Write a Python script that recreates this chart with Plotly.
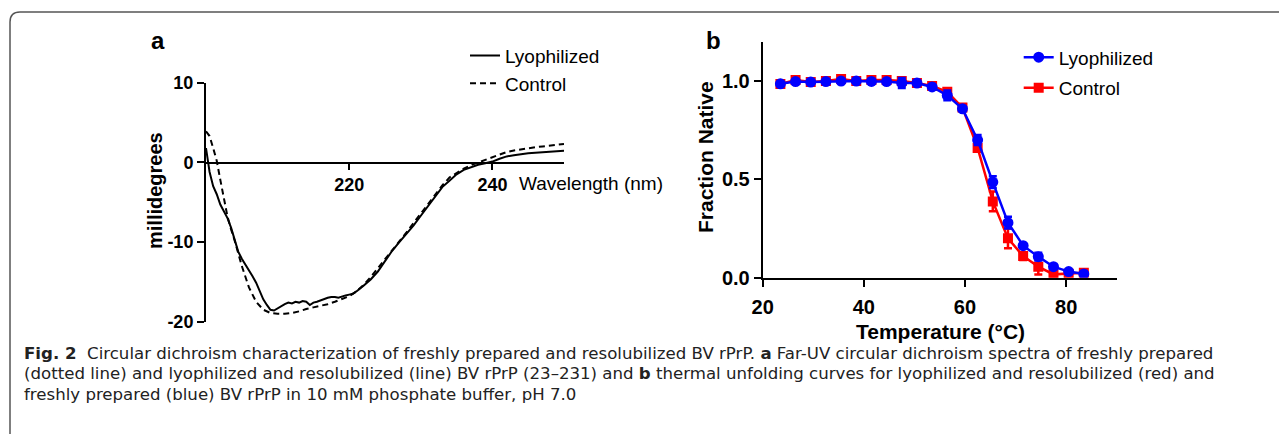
import plotly.graph_objects as go

W, H = 1287, 434
OFF = 8  # page body margin: convert screen pixels to paper coordinates
def px(x): return (x - OFF) / W
def py(y): return (H - (y - OFF)) / H

# ---------------- Panel a data (CD spectra) ----------------
wl_lyo = [200, 200.5, 201, 201.5, 202, 202.5, 203, 203.5, 204, 204.5, 205, 205.5, 206, 206.5,
          207, 207.5, 208, 208.5, 209, 209.5, 210, 210.5, 211, 211.5, 212, 212.5, 213, 213.5,
          214, 214.5, 215, 215.5, 216, 216.5, 217, 217.5, 218, 218.5, 219, 219.5, 220, 220.5,
          221, 221.5, 222, 223, 224, 225, 226, 227, 228, 229, 230, 231, 232, 233, 234, 235,
          236, 237, 238, 239, 240, 241, 242, 243, 244, 245, 246, 247, 248, 249, 250]
mdeg_lyo = [1.8, -1.2, -3.0, -4.0, -5.3, -6.2, -7.0, -8.2, -9.6, -11.2, -12.1, -12.8, -13.5, -14.3,
            -15.1, -16.2, -17.2, -17.9, -18.5, -18.6, -18.3, -18.0, -17.8, -17.6, -17.7, -17.5, -17.6, -17.4,
            -17.5, -17.9, -17.6, -17.5, -17.3, -17.2, -17.0, -16.9, -16.9, -17.0, -16.8, -16.7, -16.6, -16.5,
            -16.2, -15.9, -15.5, -14.7, -13.7, -12.4, -11.1, -10.0, -9.0, -7.9, -6.7, -5.5, -4.3, -3.1, -2.3, -1.5,
            -0.95, -0.6, -0.3, -0.1, 0.1, 0.45, 0.75, 0.9, 1.05, 1.15, 1.22, 1.3, 1.36, 1.42, 1.47]

wl_ctrl = [200, 200.5, 201, 201.5, 202, 202.5, 203, 203.5, 204, 205, 206, 207, 208, 209, 210, 211,
           212, 213, 214, 215, 216, 217, 218, 219, 220, 221, 222, 223, 224, 225, 226, 227, 228,
           229, 230, 231, 232, 233, 234, 235, 236, 237, 238, 239, 240, 241, 242, 243, 244, 245,
           246, 247, 248, 249, 250]
mdeg_ctrl = [3.9, 3.3, 1.8, 0.2, -2.2, -4.6, -6.8, -8.4, -9.8, -13.0, -15.7, -17.5, -18.5, -18.9, -19.0, -19.0,
             -18.9, -18.7, -18.4, -18.2, -18.0, -17.8, -17.5, -17.2, -16.8, -16.2, -15.4, -14.4, -13.3, -12.1, -11.0, -9.9, -8.8,
             -7.6, -6.4, -5.2, -4.0, -2.9, -1.9, -1.3, -0.8, -0.35, 0.0, 0.35, 0.6, 1.0, 1.3, 1.5, 1.65, 1.78,
             1.9, 2.0, 2.1, 2.2, 2.3]

a_yticks = [-20, -10, 0, 10]
a_yticklabels = ["-20", "-10", "0", "10"]
a_xticks = [220, 240]

# ---------------- Panel b data (thermal unfolding) ----------------
temp = [23.5, 26.5, 29.5, 32.5, 35.5, 38.5, 41.5, 44.5, 47.5, 50.5, 53.5, 56.5, 59.5, 62.5,
        65.5, 68.5, 71.5, 74.5, 77.5, 80.5, 83.5]
frac_lyo = [0.986, 0.997, 0.995, 0.997, 1.0, 1.0, 0.998, 0.997, 0.99, 0.99, 0.97, 0.927, 0.859, 0.70,
            0.486, 0.28, 0.163, 0.107, 0.056, 0.031, 0.019]
err_lyo = [0.005, 0.005, 0.005, 0.005, 0.005, 0.005, 0.005, 0.005, 0.025, 0.005, 0.01, 0.025, 0.01, 0.025,
           0.03, 0.03, 0.01, 0.02, 0.01, 0.005, 0.005]
frac_ctrl = [0.985, 1.005, 0.995, 1.0, 1.01, 1.0, 1.005, 1.005, 1.0, 0.99, 0.975, 0.945, 0.865, 0.66,
             0.388, 0.20, 0.11, 0.056, 0.017, 0.02, 0.025]
err_ctrl = [0.005, 0.01, 0.005, 0.005, 0.01, 0.005, 0.01, 0.01, 0.005, 0.005, 0.005, 0.01, 0.01, 0.015,
            0.05, 0.05, 0.02, 0.04, 0.01, 0.005, 0.01]
b_xticks = [20, 40, 60, 80]
b_yticks = [0.0, 0.5, 1.0]

FONT = "Liberation Sans, Arial, sans-serif"

fig = go.Figure()

# panel a traces
fig.add_trace(go.Scatter(x=wl_lyo, y=mdeg_lyo, mode="lines", name="Lyophilized",
                         line=dict(color="black", width=2), xaxis="x", yaxis="y", legend="legend"))
fig.add_trace(go.Scatter(x=wl_ctrl, y=mdeg_ctrl, mode="lines", name="Control",
                         line=dict(color="black", width=2, dash="6px,4px"), xaxis="x", yaxis="y",
                         legend="legend"))

# panel b traces (control drawn first so blue is on top)
fig.add_trace(go.Scatter(x=temp, y=frac_ctrl, mode="lines+markers", name="Control",
                         line=dict(color="#ff0000", width=2.5),
                         marker=dict(symbol="square", size=10, color="#ff0000"),
                         error_y=dict(type="data", array=err_ctrl, color="#ff0000", thickness=2.5, width=4),
                         xaxis="x2", yaxis="y2", legend="legend2", legendrank=2, legendgroup="c"))
fig.add_trace(go.Scatter(x=temp, y=frac_lyo, mode="lines+markers", name="Lyophilized",
                         line=dict(color="#0000ff", width=2.5),
                         marker=dict(symbol="circle", size=11, color="#0000ff"),
                         error_y=dict(type="data", array=err_lyo, color="#0000ff", thickness=2.5, width=4),
                         xaxis="x2", yaxis="y2", legend="legend2", legendrank=1, legendgroup="l"))

tickfont_a = dict(family=FONT, size=18, color="black", weight="bold")
tickfont_b = dict(family=FONT, size=20, color="black", weight="bold")

# frame path (rounded top-left corner)
x0, y0, r = 10, 12, 10
frame = (f"M {px(x0)},{py(H + OFF)} L {px(x0)},{py(y0 + r)} "
         f"Q {px(x0)},{py(y0)} {px(x0 + r)},{py(y0)} L {px(W + OFF)},{py(y0)}")

axis_common = dict(showline=True, linecolor="black", linewidth=2, ticks="outside",
                   tickwidth=2, tickcolor="black", showgrid=False, zeroline=False, automargin=False)

fig.update_layout(
    template="none",
    width=W, height=H, autosize=False,
    margin=dict(l=0, r=0, t=0, b=0, pad=0, autoexpand=False),
    paper_bgcolor="white", plot_bgcolor="white",
    font=dict(family=FONT, color="black"),
    xaxis=dict(domain=[px(206), px(564)], range=[200, 250], anchor="free", position=py(162.7),
               ticklen=6, tickvals=a_xticks, tickfont=tickfont_a, **axis_common),
    yaxis=dict(domain=[py(321.7), py(82.7)], range=[-20, 10], anchor="x",
               ticklen=7, tickvals=a_yticks, ticktext=a_yticklabels, tickfont=tickfont_a,
               **axis_common),
    xaxis2=dict(domain=[px(762.7), px(1116.7)], range=[20, 90], anchor="y2",
                ticklen=7, tickvals=b_xticks, tickfont=tickfont_b, ticklabelstandoff=3, **axis_common),
    yaxis2=dict(domain=[py(277.7), py(41.7)], range=[0, 1.2], anchor="x2",
                ticklen=7, tickvals=b_yticks, tickformat=".1f", tickfont=tickfont_b, **axis_common),
    legend=dict(x=px(465), y=py(36.7), xanchor="left", yanchor="top",
                font=dict(family=FONT, size=19, color="black"), bgcolor="rgba(0,0,0,0)",
                borderwidth=0, itemwidth=30, tracegroupgap=0),
    legend2=dict(x=px(1018.7), y=py(38.3), xanchor="left", yanchor="top",
                 font=dict(family=FONT, size=19, color="black"), bgcolor="rgba(0,0,0,0)",
                 borderwidth=0, itemwidth=30, tracegroupgap=3),
    showlegend=True,
    shapes=[dict(type="path", path=frame, xref="paper", yref="paper",
                 line=dict(color="#555555", width=1.5))],
)

ann = []
def A(text, x, y, size, bold=False, angle=0, xanchor="center", color="black", family=FONT):
    ann.append(dict(text=text, x=px(x), y=py(y), xref="paper", yref="paper", showarrow=False,
                    xanchor=xanchor, yanchor="middle", textangle=angle,
                    font=dict(family=family, size=size, color=color,
                              weight="bold" if bold else "normal")))

A("a", 158, 40, 24, bold=True)
A("b", 713, 40, 24, bold=True)
A("millidegrees", 155, 191, 20, bold=True, angle=-90)
A("Wavelength (nm)", 517, 183, 19, xanchor="left")
A("Fraction Native", 705, 157, 21, bold=True, angle=-90)
A("Temperature (°C)", 940, 331, 21, bold=True)

CAP = "DejaVu Sans, sans-serif"
cap_lines = [
    "<b>Fig. 2</b>  Circular dichroism characterization of freshly prepared and resolubilized BV rPrP. "
    "<b>a</b> Far-UV circular dichroism spectra of freshly prepared",
    "(dotted line) and lyophilized and resolubilized (line) BV rPrP (23–231) and <b>b</b> thermal "
    "unfolding curves for lyophilized and resolubilized (red) and",
    "freshly prepared (blue) BV rPrP in 10 mM phosphate buffer, pH 7.0",
]
for i, t in enumerate(cap_lines):
    A(t, 22, 353 + i * 20.5, 16.6, xanchor="left", color="#222222", family=CAP)

fig.update_layout(annotations=ann)
fig.write_html("out.html")
